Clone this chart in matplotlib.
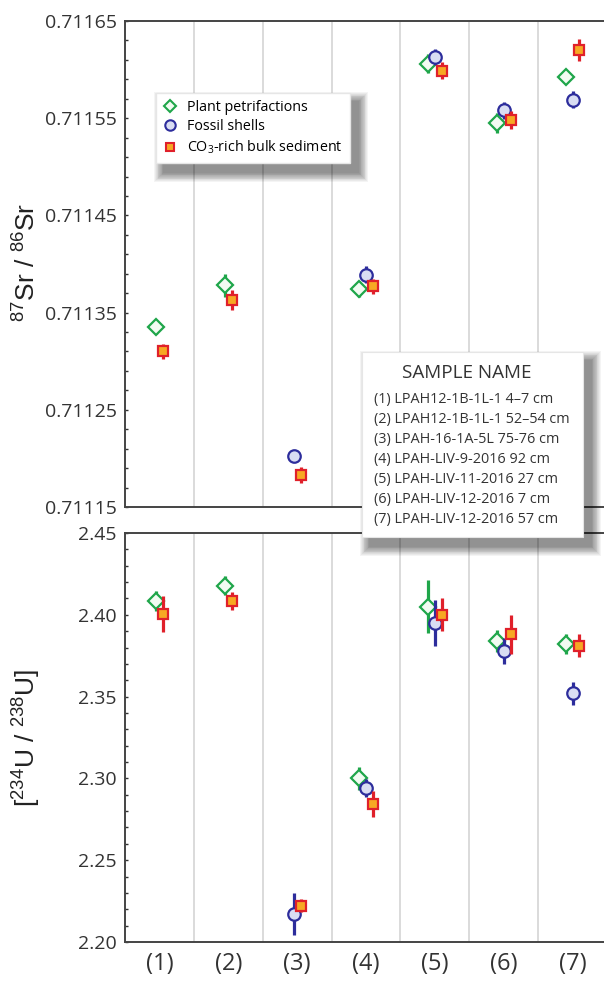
import numpy as np
import matplotlib
matplotlib.use("Agg")
import matplotlib.pyplot as plt
from matplotlib.lines import Line2D
from matplotlib.patches import Rectangle
from matplotlib.transforms import IdentityTransform
from matplotlib.ticker import FormatStrFormatter, FixedLocator

plt.rcParams['font.family'] = ['Open Sans', 'DejaVu Sans']
plt.rcParams['mathtext.default'] = 'regular'
plt.rcParams['mathtext.fontset'] = 'custom'
plt.rcParams['mathtext.rm'] = 'Liberation Sans'

# ---------------- data ----------------
categories = ['(1)', '(2)', '(3)', '(4)', '(5)', '(6)', '(7)']
series_names = ['Plant petrifactions', 'Fossil shells', 'CO$_3$-rich bulk sediment']

sr_plant = [0.711335, 0.711378, np.nan, 0.711374, 0.711606, 0.711545, 0.711592]
sr_plant_err = [0.0000075, 0.000012, np.nan, 0.000008, 0.000010, 0.000010, 0.000006]
sr_shell = [np.nan, np.nan, 0.711202, 0.711389, 0.711613, 0.711558, 0.711569]
sr_shell_err = [np.nan, np.nan, 0.000006, 0.000009, 0.000008, 0.000009, 0.000009]
sr_sed = [0.711310, 0.711363, 0.711183, 0.711377, 0.711599, 0.711548, 0.711620]
sr_sed_err = [0.000008, 0.000010, 0.000008, 0.000008, 0.000009, 0.000009, 0.000011]
sr_ticks = [0.71115, 0.71125, 0.71135, 0.71145, 0.71155, 0.71165]

u_plant = [2.4086, 2.4178, np.nan, 2.300, 2.405, 2.384, 2.382]
u_plant_err = [0.006, 0.006, np.nan, 0.007, 0.016, 0.007, 0.006]
u_shell = [np.nan, np.nan, 2.217, 2.294, 2.395, 2.378, 2.352]
u_shell_err = [np.nan, np.nan, 0.013, 0.0055, 0.014, 0.008, 0.007]
u_sed = [2.4005, 2.4086, 2.2222, 2.2844, 2.400, 2.388, 2.381]
u_sed_err = [0.011, 0.0055, 0.004, 0.008, 0.010, 0.012, 0.007]
u_ticks = [2.20, 2.25, 2.30, 2.35, 2.40, 2.45]

sample_names = ['(1) LPAH12-1B-1L-1 4\u20137 cm',
                '(2) LPAH12-1B-1L-1 52\u201354 cm',
                '(3) LPAH-16-1A-5L 75-76 cm',
                '(4) LPAH-LIV-9-2016 92 cm',
                '(5) LPAH-LIV-11-2016 27 cm',
                '(6) LPAH-LIV-12-2016 7 cm',
                '(7) LPAH-LIV-12-2016 57 cm']

# ---------------- styles ----------------
styles = [
    dict(marker='D', ms=8, mec='#1fa64a', mfc='#f2fbf2', color='#1fa64a'),
    dict(marker='o', ms=9, mec='#2d2d9c', mfc='#d9ddf3', color='#2d2d9c'),
    dict(marker='s', ms=7.8, mec='#e0202a', mfc='#f7a823', color='#e0202a'),
]

W, H = 604, 981
fig = plt.figure(figsize=(W / 100, H / 100), dpi=100)
left = 125 / W
width = 482 / W
ax1 = fig.add_axes([left, 1 - 507 / H, width, (507 - 21) / H])
ax2 = fig.add_axes([left, 1 - 942 / H, width, (942 - 533) / H])

x = np.arange(len(categories)) + 0.5


def dodge(series_list):
    # horizontal dodge of the series present in each category
    n = len(series_list[0])
    offs = [np.full(n, np.nan) for _ in series_list]
    for i in range(n):
        present = [k for k, s in enumerate(series_list) if not np.isnan(s[i])]
        m = len(present)
        for j, k in enumerate(present):
            offs[k][i] = (j - (m - 1) / 2) * 0.1
    return offs


for ax, vals, errs, ticks, nminor, fmt in [
    (ax1, [sr_plant, sr_shell, sr_sed], [sr_plant_err, sr_shell_err, sr_sed_err],
     sr_ticks, 5, '%.5f'),
    (ax2, [u_plant, u_shell, u_sed], [u_plant_err, u_shell_err, u_sed_err],
     u_ticks, 5, '%.2f'),
]:
    vals = [np.array(v, dtype=float) for v in vals]
    errs = [np.array(e, dtype=float) for e in errs]
    offs = dodge(vals)
    for k, (v, e, st) in enumerate(zip(vals, errs, styles)):
        ax.errorbar(x + offs[k], v, yerr=e, fmt='none', ecolor=st['color'],
                    elinewidth=2.3, capsize=0, zorder=3 + k)
        ax.plot(x + offs[k], v, ls='none', marker=st['marker'], ms=st['ms'],
                mec=st['mec'], mfc=st['mfc'], mew=1.6, zorder=3.5 + k)
    ax.set_xlim(0, len(categories))
    ax.set_ylim(ticks[0], ticks[-1])
    ax.yaxis.set_major_locator(FixedLocator(ticks))
    ax.yaxis.set_minor_locator(FixedLocator(
        np.linspace(ticks[0], ticks[-1], (len(ticks) - 1) * nminor + 1)))
    ax.yaxis.set_major_formatter(FormatStrFormatter(fmt))
    ax.xaxis.set_major_locator(FixedLocator(x))
    ax.xaxis.set_minor_locator(FixedLocator(np.arange(1, len(categories))))
    ax.grid(True, which='minor', axis='x', color='#d4d4d4', lw=1.2, zorder=0)
    ax.tick_params(axis='y', which='both', direction='in', length=2.5, width=1,
                   colors='#333333', labelsize=14, pad=6, labelcolor='#333333')
    ax.tick_params(axis='x', which='both', length=0)
    for s in ['left', 'top', 'bottom']:
        ax.spines[s].set_color('#444444')
        ax.spines[s].set_linewidth(1.4)
    ax.spines['right'].set_visible(False)

ax1.set_xticklabels([])
ax2.set_xticklabels(categories, fontsize=17, color='#333333')
ax2.tick_params(axis='x', pad=7)

label_font = ['Liberation Sans', 'DejaVu Sans']
fig.text(27 / W, 1 - 262 / H, '$^{87}$Sr / $^{86}$Sr', rotation=90, ha='center',
         va='center', fontsize=19, family=label_font, color='#222222')
fig.text(27 / W, 1 - 738 / H, '[$^{234}$U / $^{238}$U]', rotation=90, ha='center',
         va='center', fontsize=19, family=label_font, color='#222222')

# legend of series
handles = [Line2D([], [], ls='none', marker=st['marker'], ms=st['ms'] - 1.5,
                  mec=st['mec'], mfc=st['mfc'], mew=1.5) for st in styles]
leg = ax1.legend(handles, series_names, loc='upper left',
                 bbox_to_anchor=(156 / W, 1 - 93 / H), bbox_transform=fig.transFigure,
                 frameon=True, fancybox=False, framealpha=1, edgecolor='#e6e6e6',
                 fontsize=10.3, handlelength=0.9, handletextpad=0.8, labelspacing=0.3,
                 borderpad=0.5, borderaxespad=0)
leg.set_zorder(10)


def add_shadow(container, x0, y0, x1, y1, zorder):
    # soft shadow offset to lower-right, coords in display pixels (y up)
    n = 12
    for i in range(n):
        grow = (n - i) * 0.8
        r = Rectangle((x0 + 8 - grow, y0 - 9 - grow), (x1 - x0) + 2 * grow,
                      (y1 - y0) + 2 * grow, transform=IdentityTransform(),
                      facecolor='black', edgecolor='none', alpha=0.045,
                      zorder=zorder, clip_on=False)
        container.add_artist(r)


fig.canvas.draw()
bb = leg.get_window_extent()
add_shadow(ax1, bb.x0, bb.y0, bb.x1, bb.y1, 9)

# sample name box (figure level, spans both panels)
bx0, bx1 = 362, 583
by0, by1 = 352, 537
add_shadow(fig, bx0, H - by1, bx1, H - by0, 20)
fig.add_artist(Rectangle((bx0 / W, 1 - by1 / H), (bx1 - bx0) / W, (by1 - by0) / H,
                         transform=fig.transFigure, facecolor='white',
                         edgecolor='#e6e6e6', lw=0.8, zorder=21))
fig.text(467 / W, 1 - 373 / H, 'SAMPLE NAME', ha='center', va='center',
         fontsize=13.6, color='#333333', zorder=22)
for i, name in enumerate(sample_names):
    fig.text(374 / W, 1 - (400 + i * 19.9) / H, name, ha='left', va='center',
             fontsize=10.4, color='#333333', zorder=22)

fig.savefig('out.png', dpi=100)
